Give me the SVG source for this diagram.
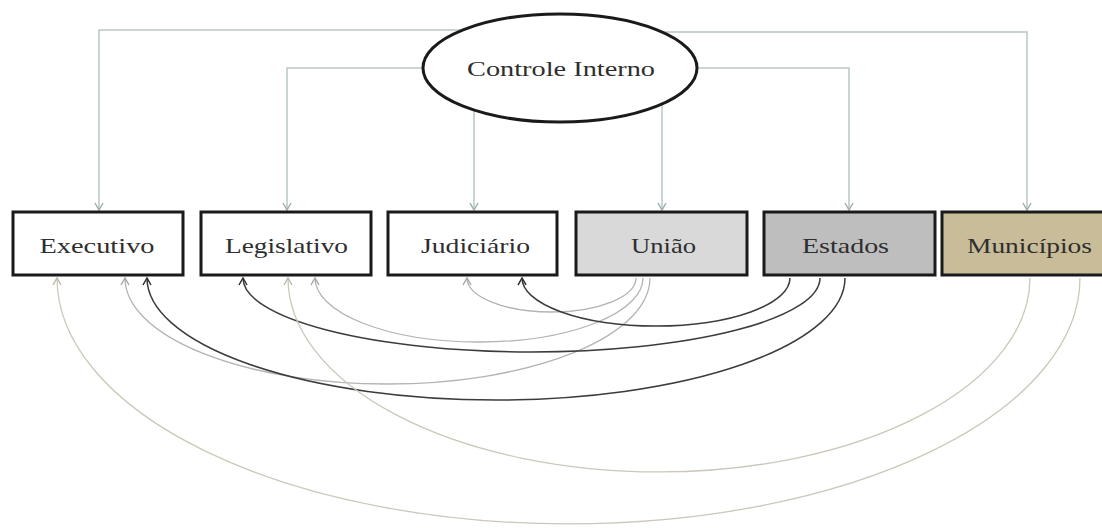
<svg xmlns="http://www.w3.org/2000/svg" width="1102" height="529" viewBox="0 0 1102 529">
<style>
  .box{stroke:#1a1a1a;stroke-width:3}
  .lbl{font-family:"Liberation Serif","Times New Roman",serif;font-size:21px;fill:#2e2e2e;text-anchor:middle}
  .top{fill:none;stroke:#b6c8c6;stroke-width:1.5}
  .uni{fill:none;stroke:#b3b3b3;stroke-width:1.3}
  .est{fill:none;stroke:#3c3c3c;stroke-width:1.5}
  .mun{fill:none;stroke:#cbc8ba;stroke-width:1.3}
</style>
<defs>
  <marker id="aTop" markerUnits="userSpaceOnUse" markerWidth="12" markerHeight="12" refX="8" refY="5" orient="auto"><path d="M1,1 L8,5 L1,9" fill="none" stroke="#9fb0ae" stroke-width="1.5"/></marker>
  <marker id="aUni" markerUnits="userSpaceOnUse" markerWidth="12" markerHeight="12" refX="8" refY="5" orient="auto"><path d="M1,1 L8,5 L1,9" fill="none" stroke="#a6a6a6" stroke-width="1.4"/></marker>
  <marker id="aEst" markerUnits="userSpaceOnUse" markerWidth="12" markerHeight="12" refX="8" refY="5" orient="auto"><path d="M1,1 L8,5 L1,9" fill="none" stroke="#2e2e2e" stroke-width="1.5"/></marker>
  <marker id="aMun" markerUnits="userSpaceOnUse" markerWidth="12" markerHeight="12" refX="8" refY="5" orient="auto"><path d="M1,1 L8,5 L1,9" fill="none" stroke="#bdb9a8" stroke-width="1.4"/></marker>
</defs>
<rect width="1102" height="529" fill="#ffffff"/>
<g id="connectors">
  <path class="top" d="M463,30 H99 V210" marker-end="url(#aTop)"/>
  <path class="top" d="M423,68 H287 V210" marker-end="url(#aTop)"/>
  <path class="top" d="M474,110 V210" marker-end="url(#aTop)"/>
  <path class="top" d="M662,104 V210" marker-end="url(#aTop)"/>
  <path class="top" d="M697,68 H849 V210" marker-end="url(#aTop)"/>
  <path class="top" d="M657,32 H1027 V210" marker-end="url(#aTop)"/>

  <path class="uni" d="M636,278 A84.5,34 0 0 1 467,278" marker-end="url(#aUni)"/>
  <path class="uni" d="M643,278 A164,64 0 0 1 315,278" marker-end="url(#aUni)"/>
  <path class="uni" d="M650,278 A262.5,106 0 0 1 125,278" marker-end="url(#aUni)"/>

  <path class="est" d="M790,278 A134,48 0 0 1 522,278" marker-end="url(#aEst)"/>
  <path class="est" d="M820,278 A288.5,74 0 0 1 243,278" marker-end="url(#aEst)"/>
  <path class="est" d="M845,278 A349,122 0 0 1 147,278" marker-end="url(#aEst)"/>

  <path class="mun" d="M1030,278 A371,194 0 0 1 288,278" marker-end="url(#aMun)"/>
  <path class="mun" d="M1080,278 A511.5,246 0 0 1 57,278" marker-end="url(#aMun)"/>
</g>
<g id="controle-interno">
  <ellipse cx="560" cy="68" rx="137" ry="54" fill="#ffffff" stroke="#1a1a1a" stroke-width="3"/>
  <text class="lbl" x="561" y="76" textLength="188" lengthAdjust="spacingAndGlyphs">Controle Interno</text>
</g>
<g id="executivo">
  <rect class="box" x="13" y="212" width="170" height="63" fill="#ffffff"/>
  <text class="lbl" x="97" y="253" textLength="115" lengthAdjust="spacingAndGlyphs">Executivo</text>
</g>
<g id="legislativo">
  <rect class="box" x="201" y="212" width="170" height="63" fill="#ffffff"/>
  <text class="lbl" x="286.5" y="253" textLength="123" lengthAdjust="spacingAndGlyphs">Legislativo</text>
</g>
<g id="judiciario">
  <rect class="box" x="388" y="212" width="169" height="63" fill="#ffffff"/>
  <text class="lbl" x="475.5" y="253" textLength="109" lengthAdjust="spacingAndGlyphs">Judiciário</text>
</g>
<g id="uniao">
  <rect class="box" x="576" y="212" width="171" height="63" fill="#d9d9d9"/>
  <text class="lbl" x="663.5" y="253" textLength="65" lengthAdjust="spacingAndGlyphs">União</text>
</g>
<g id="estados">
  <rect class="box" x="764" y="212" width="171" height="63" fill="#bebebe"/>
  <text class="lbl" x="845.5" y="253" textLength="87" lengthAdjust="spacingAndGlyphs">Estados</text>
</g>
<g id="municipios">
  <rect class="box" x="942" y="212" width="172" height="63" fill="#c9bd99"/>
  <text class="lbl" x="1029.5" y="253" textLength="125" lengthAdjust="spacingAndGlyphs">Municípios</text>
</g>
</svg>
